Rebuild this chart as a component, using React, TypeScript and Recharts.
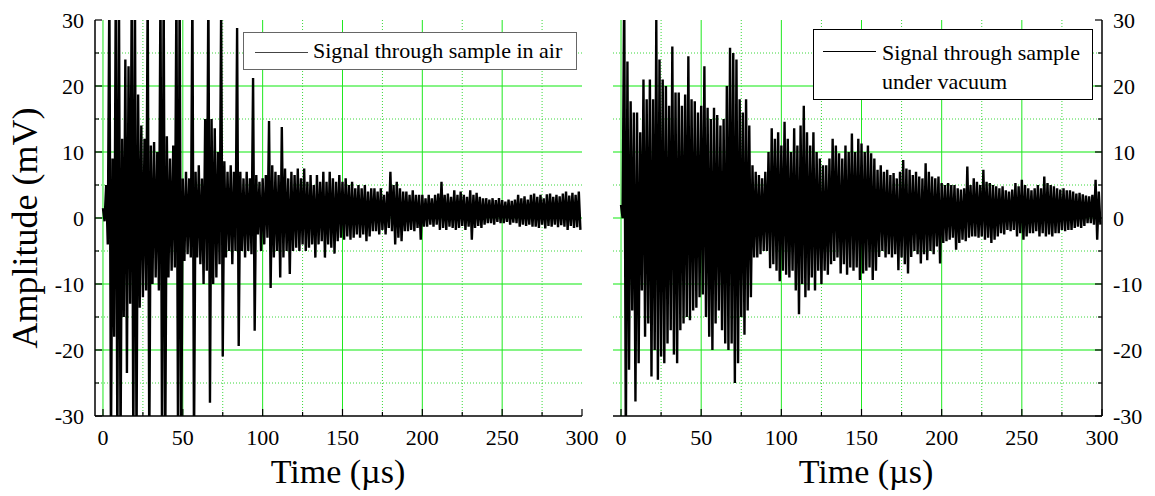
import { CartesianGrid, Legend, Line, LineChart, XAxis, YAxis } from 'recharts';

// each bin is 2 µs wide: the trace goes to the bin's maximum, then to its minimum
const BIN_US = 2;

// sample in air (mV), bins from 0 to 300 µs
const AIR_MAX = [
    1.5, 5, 35, 9, 35, 35, 12, 24, 23, 35,
    35, 18.7, 14, 12, 35, 11, 11.5, 10, 35, 35,
    12.4, 9, 11, 35, 35, 6, 7, 6, 35, 7,
    8, 6, 15, 35, 15, 13.6, 10, 32, 8.6, 7,
    8, 7, 28.8, 7, 6, 7, 6, 21.2, 6.5, 5.5,
    6, 6.5, 14.7, 8, 7, 6.5, 13.8, 7.5, 6, 7,
    6.5, 7.5, 6, 7.5, 5.5, 6.5, 5, 6.5, 5.5, 7,
    5.5, 7, 6, 5.5, 6.5, 5.5, 6, 5, 5.5, 4.5,
    5, 4.5, 5, 4, 4.5, 4.5, 4, 4.5, 3.5, 4,
    7, 5, 5.5, 4.5, 4, 4, 3.5, 4.2, 3.5, 3.5,
    3.5, 3, 3.5, 3, 3.5, 3.7, 5.5, 3.5, 3.7, 3.2,
    4.2, 3.5, 4, 3.5, 3.2, 4.2, 3.5, 3.8, 3.2, 3,
    3, 2.8, 3, 2.7, 3, 2.7, 2.5, 2.8, 2.6, 2.8,
    3.5, 3, 3.3, 2.8, 3.5, 3.7, 3.2, 3.5, 3, 3.6,
    3.7, 3.2, 3.5, 3.3, 3.7, 4, 3.4, 3.8, 3.5, 4,
];
const AIR_MIN = [
    -0.5, -4, -35, -18, -35, -35, -15, -23.5, -13, -35,
    -35, -13.6, -12, -11, -35, -10, -9, -11, -35, -35,
    -9, -8, -7.5, -35, -35, -6.5, -5.5, -6, -35, -6,
    -7, -10, -8, -28, -10, -9, -7, -21, -6, -5,
    -7, -5, -19.4, -5, -6, -5, -5.5, -17.1, -2.5, -5,
    -4, -3, -10.6, -6, -5, -9, -6, -5, -8.5, -5,
    -4.5, -5, -4, -5, -4.5, -4, -6, -4, -3.5, -6,
    -4, -4.5, -5.4, -3.5, -3, -3.3, -2.8, -3.3, -3, -2.5,
    -3, -2.5, -3.5, -2.8, -2, -2, -2.5, -1.8, -2.5, -1.5,
    -2, -4, -3, -3.5, -2, -2, -1.8, -2, -1.5, -3.3,
    -1.3, -1.3, -1, -1.3, -1, -1.8, -1.5, -1.8, -1.3, -1.5,
    -1.8, -1.5, -1.2, -1.8, -1.3, -3.3, -1.5, -1.2, -1.5, -1,
    -0.8, -0.8, -1, -0.6, -0.8, -0.8, -0.6, -1, -0.7, -0.8,
    -1.3, -1, -1.2, -1, -1.3, -1.3, -1.5, -1, -1.6, -1.2,
    -1.3, -1, -1.4, -1.1, -1.3, -1.8, -1.2, -1.5, -1.4, -1.8,
];

// sample under vacuum (mV)
const VAC_MAX = [
    2, 35, 23.7, 17.7, 16, 16, 13, 21, 18, 21,
    18, 30, 24, 21, 20, 17, 26, 19, 19, 17,
    18.7, 24.5, 18, 17.7, 16, 17, 23, 16.7, 15, 16.7,
    15.6, 14, 15, 20, 25.8, 25, 24, 18, 16, 18,
    14, 8, 7, 6.5, 6, 7, 10, 13.6, 12, 13,
    11, 14.6, 12, 10, 13.6, 11, 14, 17, 13, 11,
    13, 10, 9, 8, 8, 9, 12, 11, 9.8, 9,
    11, 10, 12.8, 10, 12, 11.3, 10, 11, 9.8, 9,
    7.3, 8, 7, 7.3, 6.5, 6.8, 6, 7, 8.8, 7.5,
    7.3, 6.5, 7, 6.3, 6, 8.3, 7, 6.3, 6, 6.3,
    5.3, 5, 5.3, 5, 5, 4.5, 4.3, 4.5, 7.8, 5,
    6, 5.5, 5, 7.3, 5.5, 5.3, 5, 4.8, 4.5, 4.8,
    4.2, 4, 4.3, 5.3, 4.8, 5.8, 5, 4.5, 4.2, 4.5,
    5, 4.5, 6.3, 5.3, 5, 4.8, 4.5, 4.3, 4.5, 4.2,
    4.2, 4, 3.7, 3.8, 3.6, 3.4, 3.3, 3.5, 5.8, 4,
];
const VAC_MIN = [
    0, -35, -23, -14, -27.8, -22, -11, -18, -16, -24,
    -20, -24.5, -21, -22, -19, -17, -20.7, -22, -17, -16,
    -15, -15.5, -14, -13.6, -12, -11.6, -15, -18, -20, -16,
    -14, -17, -19, -20, -19, -25, -22, -15, -17.7, -14,
    -12, -6, -6, -5.5, -5, -5, -7.6, -7, -8, -9.6,
    -8, -8.6, -9, -8, -11, -14.6, -10, -12, -11, -9,
    -11, -8, -10, -8, -8.6, -7, -6.5, -6, -8.4, -7,
    -8.6, -7.5, -8, -7.5, -9.4, -8.4, -8, -7.5, -9.4, -8,
    -5.9, -5, -6, -5.5, -6, -5.5, -7.9, -6, -7, -8.4,
    -5.9, -5, -5.5, -6.9, -5.5, -6.4, -5, -5.5, -4.3, -6.9,
    -3.8, -3.5, -3.3, -3, -4.8, -3.8, -3.3, -3.5, -3, -2.8,
    -2.8, -3, -2.8, -3.3, -3, -3.8, -3.3, -2.8, -2.3, -2.5,
    -1.8, -2, -1.8, -2.8, -2.3, -3.3, -2.8, -2.3, -2.3, -2,
    -2.8, -2.3, -2.8, -2.5, -2.8, -2.3, -2.3, -1.8, -2, -1.8,
    -1.8, -1.5, -1.3, -1.5, -1.2, -0.8, -0.8, -1, -3.3, -1,
];

const X_TICKS = [0, 25, 50, 75, 100, 125, 150, 175, 200, 225, 250, 275, 300];
const Y_TICKS = [-30, -25, -20, -15, -10, -5, 0, 5, 10, 15, 20, 25, 30];
const X_MAJOR_GRID = [0, 50, 100, 150, 200, 250];
const X_MINOR_GRID = [25, 75, 125, 175, 225, 275];
const Y_MAJOR_GRID = [-20, -10, 0, 10, 20];
const Y_MINOR_GRID = [-25, -15, -5, 5, 15, 25];

const LEGEND_AIR = ['Signal through sample in air'];
const LEGEND_VACUUM = ['Signal through sample', 'under vacuum'];

const FONT = "'Liberation Serif', 'Times New Roman', serif";
const X_DOMAIN: [number, number] = [-5, 300];
const Y_DOMAIN: [number, number] = [-30, 30];
const TRACE_WIDTH = 2.4;

function buildTrace(upper: number[], lower: number[]) {
    const rows: { t: number; v: number }[] = [];
    upper.forEach((u, i) => {
        rows.push({ t: i * BIN_US, v: u });
        rows.push({ t: i * BIN_US + BIN_US / 2, v: lower[i] });
    });
    return rows;
}

const airData = buildTrace(AIR_MAX, AIR_MIN);
const vacData = buildTrace(VAC_MAX, VAC_MIN);

type Side = 'top' | 'bottom' | 'left' | 'right';

// inward tick marks, label only on major ticks of labelled sides
function axisTick(side: Side, labelled: boolean) {
    return function Tick(props: any) {
        const { x, y, payload } = props;
        const v = payload.value as number;
        const horiz = side === 'top' || side === 'bottom';
        const major = horiz ? v % 50 === 0 : v % 10 === 0;
        const len = major ? 7 : 4;
        let x2 = x;
        let y2 = y;
        if (side === 'bottom') y2 = y - len;
        if (side === 'top') y2 = y + len;
        if (side === 'left') x2 = x + len;
        if (side === 'right') x2 = x - len;
        let label = null;
        if (labelled && major) {
            if (side === 'bottom') {
                label = <text x={x} y={y + 29} textAnchor="middle">{v}</text>;
            } else if (side === 'left') {
                label = <text x={x - 11} y={y} dy="0.35em" textAnchor="end">{v}</text>;
            } else {
                label = <text x={x + 11} y={y} dy="0.35em" textAnchor="start">{v}</text>;
            }
        }
        return (
            <g>
                <line x1={x} y1={y} x2={x2} y2={y2} stroke="#000" strokeWidth={1.2} />
                {label && (
                    <g fontFamily={FONT} fontSize={22} fill="#000">
                        {label}
                    </g>
                )}
            </g>
        );
    };
}

function LegendBox(props: {
    lines: string[];
    width: number;
    height: number;
    swatchLeft: number;
    swatchTop: number;
    textLeft: number;
    textTop: number;
    border: string;
    swatch: string;
}) {
    return (
        <div
            style={{
                boxSizing: 'border-box',
                width: props.width,
                height: props.height,
                border: `1px solid ${props.border}`,
                background: '#fff',
                position: 'relative',
                fontFamily: FONT,
                fontSize: 22,
                color: '#000',
            }}
        >
            <div
                style={{
                    position: 'absolute',
                    left: props.swatchLeft,
                    top: props.swatchTop,
                    width: 53,
                    borderTop: `1px solid ${props.swatch}`,
                }}
            />
            <div
                style={{
                    position: 'absolute',
                    left: props.textLeft,
                    top: props.textTop,
                    lineHeight: '29px',
                    whiteSpace: 'nowrap',
                }}
            >
                {props.lines.map((l) => (
                    <div key={l}>{l}</div>
                ))}
            </div>
        </div>
    );
}

export default function App() {
    const grids = [
        <CartesianGrid
            key="hmaj"
            vertical={false}
            horizontalValues={Y_MAJOR_GRID}
            stroke="#5ef05e"
            strokeWidth={1.6}
        />,
        <CartesianGrid
            key="vmaj"
            horizontal={false}
            verticalValues={X_MAJOR_GRID}
            stroke="#1ee81e"
            strokeWidth={1}
        />,
        <CartesianGrid
            key="min"
            horizontalValues={Y_MINOR_GRID}
            verticalValues={X_MINOR_GRID}
            stroke="#3ad83a"
            strokeDasharray="1 2"
        />,
    ];

    return (
        <div style={{ position: 'absolute', left: 0, top: 0, width: 1155, height: 496, background: '#fff' }}>
            <div style={{ position: 'absolute', left: 0, top: 0 }}>
                <LineChart
                    width={600}
                    height={496}
                    data={airData}
                    margin={{ top: 20, right: 18, bottom: 0, left: 0 }}
                >
                    {grids}
                    <XAxis
                        dataKey="t"
                        type="number"
                        domain={X_DOMAIN}
                        ticks={X_TICKS}
                        interval={0}
                        height={80}
                        tickSize={0}
                        tickMargin={0}
                        tickLine={false}
                        axisLine={{ stroke: '#000', strokeWidth: 1.5 }}
                        tick={axisTick('bottom', true)}
                        label={() => (
                            <text x={338} y={483} textAnchor="middle" fontFamily={FONT} fontSize={34} fill="#000">
                                Time (µs)
                            </text>
                        )}
                    />
                    <XAxis
                        xAxisId="top"
                        orientation="top"
                        type="number"
                        domain={X_DOMAIN}
                        ticks={X_TICKS}
                        interval={0}
                        height={0}
                        tickSize={0}
                        tickMargin={0}
                        tickLine={false}
                        axisLine={{ stroke: '#000', strokeWidth: 1.5 }}
                        tick={axisTick('top', false)}
                    />
                    <YAxis
                        type="number"
                        domain={Y_DOMAIN}
                        allowDataOverflow
                        ticks={Y_TICKS}
                        interval={0}
                        width={95}
                        tickSize={0}
                        tickMargin={0}
                        tickLine={false}
                        axisLine={{ stroke: '#000', strokeWidth: 1.5 }}
                        tick={axisTick('left', true)}
                        label={() => (
                            <text
                                x={37}
                                y={228}
                                transform="rotate(-90 37 228)"
                                textAnchor="middle"
                                fontFamily={FONT}
                                fontSize={36}
                                fill="#000"
                            >
                                Amplitude (mV)
                            </text>
                        )}
                    />
                    <YAxis
                        yAxisId="r"
                        orientation="right"
                        type="number"
                        domain={Y_DOMAIN}
                        ticks={Y_TICKS}
                        interval={0}
                        width={0}
                        tickSize={0}
                        tickMargin={0}
                        tickLine={false}
                        axisLine={{ stroke: '#000', strokeWidth: 1.5 }}
                        tick={axisTick('right', false)}
                    />
                    <Legend
                        layout="vertical"
                        align="center"
                        verticalAlign="middle"
                        wrapperStyle={{ left: 243, top: 32, width: 'auto' }}
                        content={() => (
                            <LegendBox
                                lines={LEGEND_AIR}
                                width={334}
                                height={38}
                                swatchLeft={11}
                                swatchTop={19}
                                textLeft={69}
                                textTop={3}
                                border="#666"
                                swatch="#444"
                            />
                        )}
                    />
                    <Line
                        dataKey="v"
                        stroke="#000"
                        strokeWidth={TRACE_WIDTH}
                        dot={false}
                        isAnimationActive={false}
                        name="Signal through sample in air"
                    />
                </LineChart>
            </div>
            <div style={{ position: 'absolute', left: 600, top: 0 }}>
                <LineChart
                    width={555}
                    height={496}
                    data={vacData}
                    margin={{ top: 20, right: 0, bottom: 0, left: 13 }}
                >
                    {grids}
                    <XAxis
                        dataKey="t"
                        type="number"
                        domain={X_DOMAIN}
                        ticks={X_TICKS}
                        interval={0}
                        height={80}
                        tickSize={0}
                        tickMargin={0}
                        tickLine={false}
                        axisLine={{ stroke: '#000', strokeWidth: 1.5 }}
                        tick={axisTick('bottom', true)}
                        label={() => (
                            <text x={266} y={483} textAnchor="middle" fontFamily={FONT} fontSize={34} fill="#000">
                                Time (µs)
                            </text>
                        )}
                    />
                    <XAxis
                        xAxisId="top"
                        orientation="top"
                        type="number"
                        domain={X_DOMAIN}
                        ticks={X_TICKS}
                        interval={0}
                        height={0}
                        tickSize={0}
                        tickMargin={0}
                        tickLine={false}
                        axisLine={{ stroke: '#000', strokeWidth: 1.5 }}
                        tick={axisTick('top', false)}
                    />
                    <YAxis
                        yAxisId="l"
                        orientation="left"
                        type="number"
                        domain={Y_DOMAIN}
                        ticks={Y_TICKS}
                        interval={0}
                        width={0}
                        tickSize={0}
                        tickMargin={0}
                        tickLine={false}
                        axisLine={{ stroke: '#000', strokeWidth: 1.5 }}
                        tick={axisTick('left', false)}
                    />
                    <YAxis
                        orientation="right"
                        type="number"
                        domain={Y_DOMAIN}
                        allowDataOverflow
                        ticks={Y_TICKS}
                        interval={0}
                        width={53}
                        tickSize={0}
                        tickMargin={0}
                        tickLine={false}
                        axisLine={{ stroke: '#000', strokeWidth: 1.5 }}
                        tick={axisTick('right', true)}
                    />
                    <Legend
                        layout="vertical"
                        align="center"
                        verticalAlign="middle"
                        wrapperStyle={{ left: 213, top: 29, width: 'auto' }}
                        content={() => (
                            <LegendBox
                                lines={LEGEND_VACUUM}
                                width={280}
                                height={71}
                                swatchLeft={9}
                                swatchTop={21}
                                textLeft={68}
                                textTop={8}
                                border="#000"
                                swatch="#000"
                            />
                        )}
                    />
                    <Line
                        dataKey="v"
                        stroke="#000"
                        strokeWidth={TRACE_WIDTH}
                        dot={false}
                        isAnimationActive={false}
                        name="Signal through sample under vacuum"
                    />
                </LineChart>
            </div>
        </div>
    );
}
